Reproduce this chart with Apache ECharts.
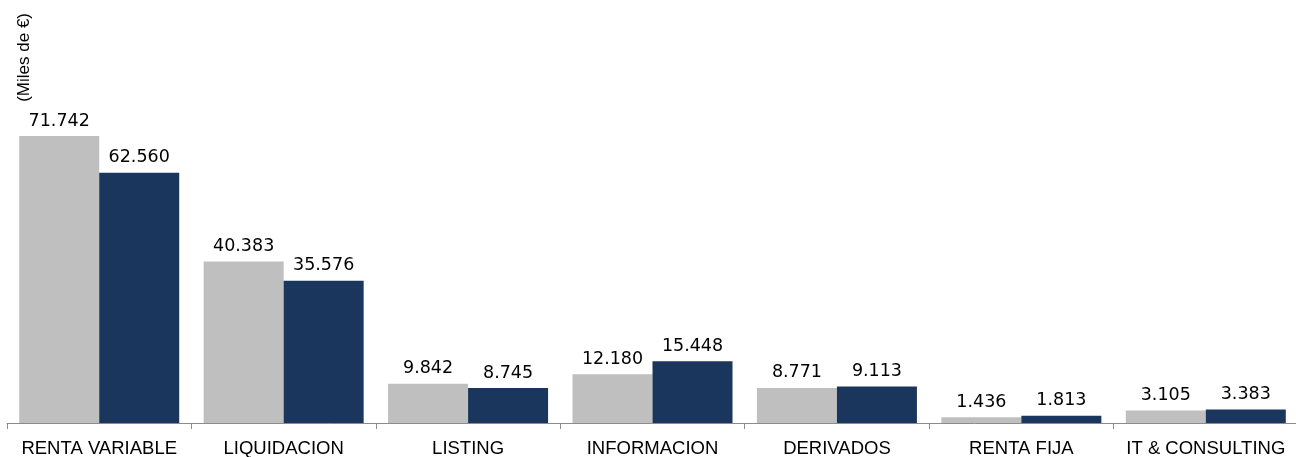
<!DOCTYPE html>
<html><head><meta charset="utf-8">
<script src="https://cdn.jsdelivr.net/npm/echarts@6/dist/echarts.min.js"></script>
<style>html,body{margin:0;padding:0;background:#fff}#c{width:1296px;height:457px}</style>
</head><body><div id="c"></div>
<script>
const categories = ['RENTA VARIABLE','LIQUIDACION','LISTING','INFORMACION','DERIVADOS','RENTA FIJA','IT & CONSULTING'];
const series1 = [71742, 40383, 9842, 12180, 8771, 1436, 3105];
const series2 = [62560, 35576, 8745, 15448, 9113, 1813, 3383];
const yAxisName = '(Miles de €)';

const fmt = v => v.value.toLocaleString('de-DE');
const labelCfg = {show:true, position:'top', distance:6, formatter:fmt, fontFamily:'DejaVu Sans', fontSize:17.5, color:'#000'};
const chart = echarts.init(document.getElementById('c'));
chart.setOption({
  animation:false,
  grid:{left:7, right:-2, top:103, bottom:34, containLabel:false, outerBoundsMode:'none'},
  xAxis:{type:'category', data:categories, boundaryGap:true,
    axisLine:{lineStyle:{color:'#8c8c8c', width:1}},
    axisTick:{show:true, interval:0, length:6, lineStyle:{color:'#8c8c8c'}},
    axisLabel:{interval:0, margin:16, fontFamily:'Liberation Sans', fontSize:18.5, color:'#000'}},
  yAxis:{type:'value', min:0, max:80000, show:false},
  graphic:[{type:'text', left:16, top:13, rotation:Math.PI/2, style:{text:yAxisName, font:'17px "Liberation Sans"', fill:'#000'}}],
  series:[
    {type:'bar', data:series1, barWidth:80, barGap:'0%', itemStyle:{color:'#BFBFBF'}, label:labelCfg},
    {type:'bar', data:series2, barWidth:80, barGap:'0%', itemStyle:{color:'#1A365D'}, label:labelCfg}
  ]
});
</script></body></html>
